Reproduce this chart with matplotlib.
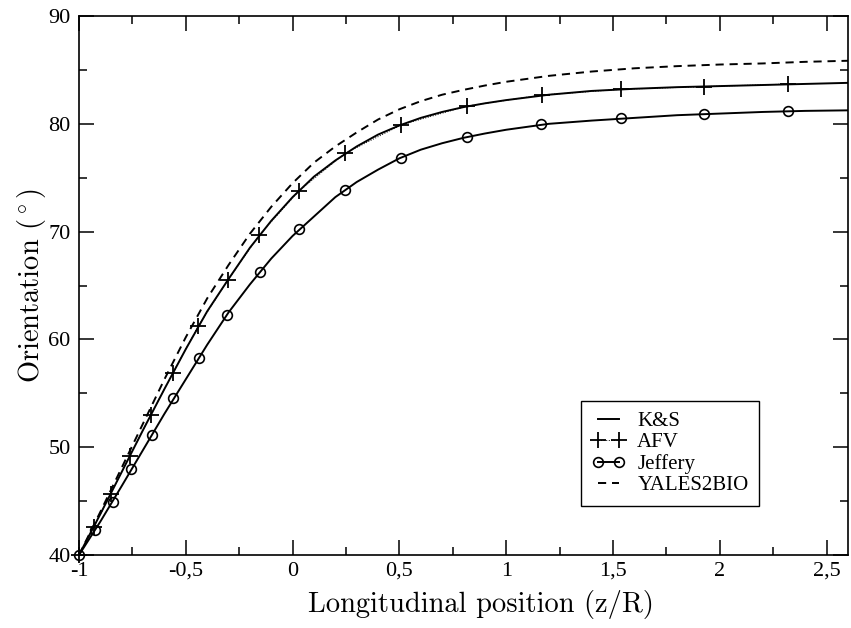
import matplotlib
matplotlib.use("Agg")
import matplotlib.pyplot as plt
from matplotlib.lines import Line2D
from matplotlib.ticker import FixedLocator, MultipleLocator, FuncFormatter

# Orientation along the longitudinal position for the four models
grid_x = [-1.0, -0.9, -0.8, -0.7, -0.6, -0.5, -0.4, -0.3, -0.2, -0.1, 0.0,
          0.1, 0.2, 0.3, 0.4, 0.5, 0.6, 0.7, 0.8, 0.9, 1.0, 1.2, 1.4, 1.6,
          1.8, 2.0, 2.2, 2.4, 2.6]

ks_y = [40.0, 43.8, 47.7, 51.6, 55.4, 59.1, 62.6, 65.6, 68.5, 71.0, 73.2,
        75.1, 76.6, 77.9, 79.0, 79.85, 80.55, 81.1, 81.55, 81.9, 82.2, 82.7,
        83.05, 83.25, 83.4, 83.5, 83.6, 83.7, 83.8]

jeffery_line_y = [40.0, 43.1, 46.4, 49.75, 53.1, 56.3, 59.5, 62.5, 65.1,
                  67.5, 69.6, 71.4, 73.2, 74.6, 75.75, 76.8, 77.6, 78.2, 78.7,
                  79.1, 79.45, 80.0, 80.3, 80.55, 80.8, 80.95, 81.1, 81.2,
                  81.25]

yales_y = [40.0, 44.0, 48.1, 52.2, 56.3, 60.2, 63.8, 66.9, 69.8, 72.3, 74.5,
           76.4, 77.9, 79.2, 80.4, 81.35, 82.1, 82.7, 83.15, 83.55, 83.9,
           84.45, 84.85, 85.15, 85.35, 85.5, 85.6, 85.75, 85.85]

afv_x = [-1.0, -0.929, -0.851, -0.762, -0.664, -0.56, -0.443, -0.303, -0.155,
         0.031, 0.246, 0.509, 0.817, 1.167, 1.535, 1.924, 2.321]
afv_y = [40.0, 42.6, 45.7, 49.2, 53.0, 56.9, 61.2, 65.5, 69.7, 73.8, 77.26,
         79.9, 81.65, 82.67, 83.2, 83.45, 83.69]

jeffery_x = [-1.0, -0.925, -0.843, -0.755, -0.66, -0.558, -0.439, -0.306,
             -0.152, 0.03, 0.246, 0.509, 0.817, 1.164, 1.535, 1.924, 2.321]
jeffery_y = [40.0, 42.3, 44.9, 47.95, 51.1, 54.55, 58.3, 62.3, 66.3, 70.2,
             73.86, 76.86, 78.8, 79.96, 80.5, 80.9, 81.2]

x_ticks = [-1, -0.5, 0, 0.5, 1, 1.5, 2, 2.5]
x_tick_labels = ["-1", "-0,5", "0", "0,5", "1", "1,5", "2", "2,5"]
y_ticks = [40, 50, 60, 70, 80, 90]

legend_labels = ["K&S", "AFV", "Jeffery", "YALES2BIO"]

plt.rcParams["mathtext.fontset"] = "cm"
tick_font = "Liberation Serif"
label_font = "cmr10"

fig = plt.figure(figsize=(8.51, 6.28), dpi=100)
ax = fig.add_axes([0.0928, 0.1162, 0.9037, 0.8583])

lw = 1.4
dash = (0, (4.2, 3.0))
# AFV: dotted connector with plus markers, sitting under the K&S curve
ax.plot(afv_x, afv_y, color="black", linestyle=":", linewidth=0.7,
        zorder=2, clip_on=False)
ax.plot(grid_x, ks_y, color="black", linewidth=lw, zorder=3)
ax.plot(afv_x, afv_y, linestyle="none", marker="+", markersize=11,
        markeredgewidth=1.3, color="black", zorder=5, clip_on=False)
ax.plot(grid_x, jeffery_line_y, color="black", linewidth=lw, zorder=3)
ax.plot(jeffery_x, jeffery_y, linestyle="none", marker="o", markersize=7,
        markeredgewidth=1.2, markerfacecolor="none", color="black",
        zorder=5, clip_on=False)
ax.plot(grid_x, yales_y, color="black", linewidth=lw, linestyle=dash,
        zorder=3)

ax.set_xlim(-1, 2.6)
ax.set_ylim(40, 90)

ax.xaxis.set_major_locator(FixedLocator(x_ticks))
ax.xaxis.set_major_formatter(
    FuncFormatter(lambda v, p: x_tick_labels[x_ticks.index(v)] if v in x_ticks else ""))
ax.xaxis.set_minor_locator(MultipleLocator(0.25))
ax.yaxis.set_major_locator(FixedLocator(y_ticks))
ax.yaxis.set_minor_locator(MultipleLocator(5))

ax.tick_params(which="both", direction="in", top=True, right=True,
               width=1.1, color="black")
ax.tick_params(which="major", length=11)
ax.tick_params(which="minor", length=6)
ax.tick_params(axis="y", which="major", pad=6)
ax.tick_params(axis="x", which="major", pad=5)
for lab in ax.get_xticklabels() + ax.get_yticklabels():
    lab.set_fontfamily(tick_font)
    lab.set_fontsize(16)
for s in ax.spines.values():
    s.set_linewidth(1.2)

ax.set_xlabel("Longitudinal position (z/R)", fontfamily=label_font,
              fontsize=20.5)
ax.set_ylabel(r"Orientation $(^\circ)$", fontfamily=label_font, fontsize=20.5)
ax.xaxis.set_label_coords(0.523, -0.064)
ax.yaxis.set_label_coords(-0.04, 0.5)

handles = [
    Line2D([], [], color="black", linewidth=lw),
    Line2D([], [], color="black", linestyle=":", linewidth=0.7, marker="+",
           markersize=11, markeredgewidth=1.3),
    Line2D([], [], color="black", linewidth=lw, marker="o", markersize=7,
           markeredgewidth=1.2, markerfacecolor="none"),
    Line2D([], [], color="black", linewidth=lw, linestyle=dash),
]
leg = ax.legend(handles, legend_labels, loc="upper left",
                bbox_to_anchor=(0.6528, 0.2857), borderaxespad=0,
                numpoints=2, fancybox=False, framealpha=1, edgecolor="black",
                prop={"family": tick_font, "size": 15}, handlelength=1.6,
                handletextpad=0.6, labelspacing=0.08, borderpad=0.5)
leg.get_frame().set_linewidth(1.0)

fig.savefig("out.png", dpi=100)
